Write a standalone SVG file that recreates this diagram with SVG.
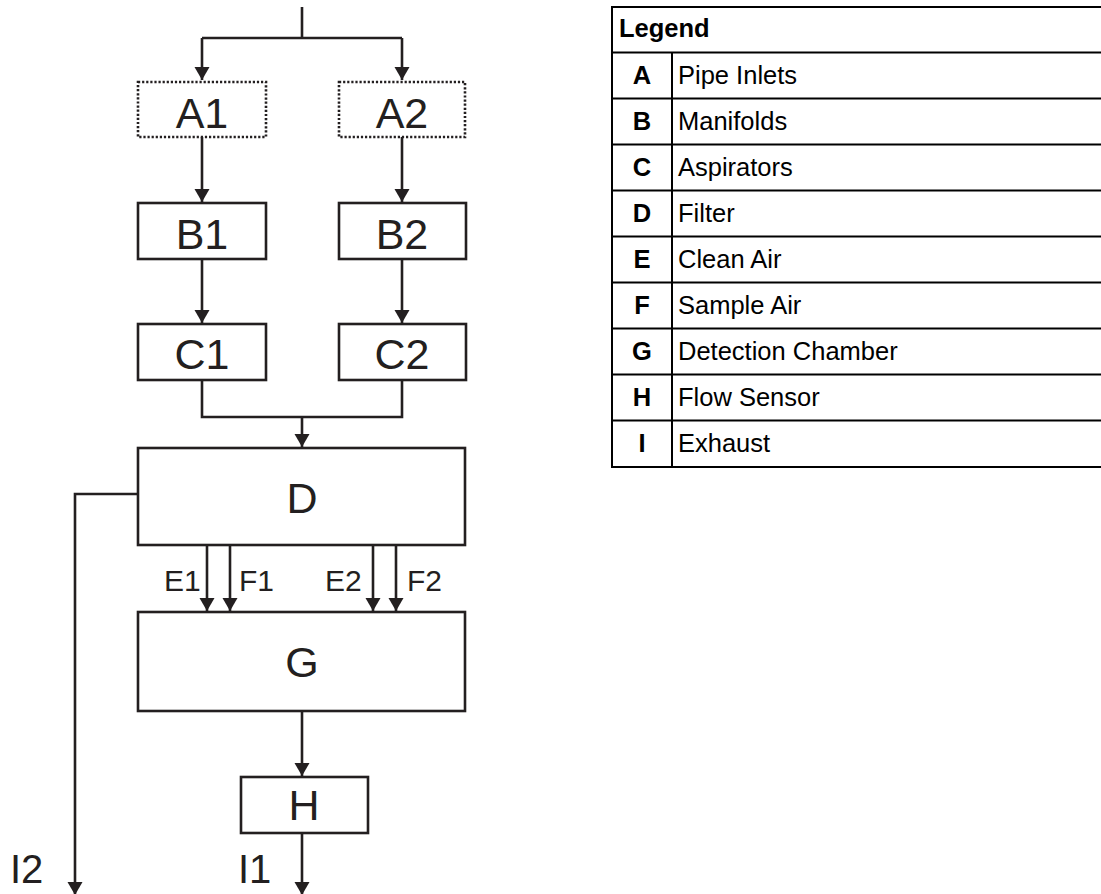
<svg xmlns="http://www.w3.org/2000/svg" width="1101" height="894" viewBox="0 0 1101 894">
<defs>
<marker id="ah" markerWidth="13" markerHeight="15" refX="13" refY="7.5" orient="auto" markerUnits="userSpaceOnUse" overflow="visible">
<path d="M0,0 L13,7.5 L0,15 Z" fill="#231f20"/>
</marker>
<style>
.box{fill:#fff;stroke:#231f20;stroke-width:2.6}
.dot{fill:#fff;stroke:#231f20;stroke-width:2.6;stroke-dasharray:2.2 1.9}
.lbl{font-family:"Liberation Sans",Arial,sans-serif;font-size:43px;fill:#231f20;text-anchor:middle}
.sm{font-family:"Liberation Sans",Arial,sans-serif;font-size:30px;fill:#231f20}
.ex{font-family:"Liberation Sans",Arial,sans-serif;font-size:40px;fill:#231f20}
.ln{fill:none;stroke:#231f20;stroke-width:2.6}
.arr{fill:none;stroke:#231f20;stroke-width:2.6;marker-end:url(#ah)}
.lg{fill:none;stroke:#000;stroke-width:2}
.lt{font-family:"Liberation Sans",Arial,sans-serif;font-size:25.5px;fill:#000}
.lk{font-family:"Liberation Sans",Arial,sans-serif;font-size:25.5px;font-weight:bold;fill:#000;text-anchor:middle}
</style>
</defs>
<rect width="1101" height="894" fill="#fff"/>
<g id="connectors">
<path class="ln" d="M302,7 V38 M202,38 H402"/>
<path class="arr" d="M202,38 V80"/>
<path class="arr" d="M402,38 V80"/>
<path class="arr" d="M202,137 V202"/>
<path class="arr" d="M402,137 V202"/>
<path class="arr" d="M202,259 V323"/>
<path class="arr" d="M402,259 V323"/>
<path class="ln" d="M202,380 V417 H402 V380"/>
<path class="arr" d="M302,417 V447"/>
<path class="arr" d="M207,545 V611"/>
<path class="arr" d="M230,545 V611"/>
<path class="arr" d="M373,545 V611"/>
<path class="arr" d="M396,545 V611"/>
<path class="arr" d="M302,711 V776"/>
<path class="arr" d="M302,833 V895"/>
<path class="arr" d="M138,494 H75 V895"/>
<text class="sm" x="164" y="591">E1</text>
<text class="sm" x="239" y="591">F1</text>
<text class="sm" x="325" y="591">E2</text>
<text class="sm" x="407" y="591">F2</text>
<text class="ex" x="10" y="883">I2</text>
<text class="ex" x="238" y="883">I1</text>
</g>
<g id="A1"><rect class="dot" x="138" y="82" width="128" height="55"/><text class="lbl" x="202" y="128">A1</text></g>
<g id="A2"><rect class="dot" x="339" y="82" width="126" height="55"/><text class="lbl" x="402" y="128">A2</text></g>
<g id="B1"><rect class="box" x="138" y="203" width="128" height="56"/><text class="lbl" x="202" y="249">B1</text></g>
<g id="B2"><rect class="box" x="339" y="203" width="127" height="56"/><text class="lbl" x="402" y="249">B2</text></g>
<g id="C1"><rect class="box" x="138" y="324" width="128" height="56"/><text class="lbl" x="202" y="369">C1</text></g>
<g id="C2"><rect class="box" x="339" y="324" width="127" height="56"/><text class="lbl" x="402" y="369">C2</text></g>
<g id="D"><rect class="box" x="138" y="448" width="327" height="97"/><text class="lbl" x="302" y="513">D</text></g>
<g id="G"><rect class="box" x="138" y="612" width="327" height="99"/><text class="lbl" x="302" y="677">G</text></g>
<g id="H"><rect class="box" x="241" y="777" width="127" height="56"/><text class="lbl" x="304" y="820">H</text></g>
<g id="legend">
<rect class="lg" x="612" y="7" width="500" height="460"/>
<path class="lg" d="M612,52.5 H1101 M612,98.5 H1101 M612,144.5 H1101 M612,190.5 H1101 M612,236.5 H1101 M612,282.5 H1101 M612,328.5 H1101 M612,374.5 H1101 M612,420.5 H1101 M672,52.5 V467"/>
<text class="lt" x="619" y="37" font-weight="bold">Legend</text>
<text class="lk" x="642" y="84">A</text><text class="lt" x="678" y="84">Pipe Inlets</text>
<text class="lk" x="642" y="130">B</text><text class="lt" x="678" y="130">Manifolds</text>
<text class="lk" x="642" y="176">C</text><text class="lt" x="678" y="176">Aspirators</text>
<text class="lk" x="642" y="222">D</text><text class="lt" x="678" y="222">Filter</text>
<text class="lk" x="642" y="268">E</text><text class="lt" x="678" y="268">Clean Air</text>
<text class="lk" x="642" y="314">F</text><text class="lt" x="678" y="314">Sample Air</text>
<text class="lk" x="642" y="360">G</text><text class="lt" x="678" y="360">Detection Chamber</text>
<text class="lk" x="642" y="406">H</text><text class="lt" x="678" y="406">Flow Sensor</text>
<text class="lk" x="642" y="452">I</text><text class="lt" x="678" y="452">Exhaust</text>
</g>
</svg>
